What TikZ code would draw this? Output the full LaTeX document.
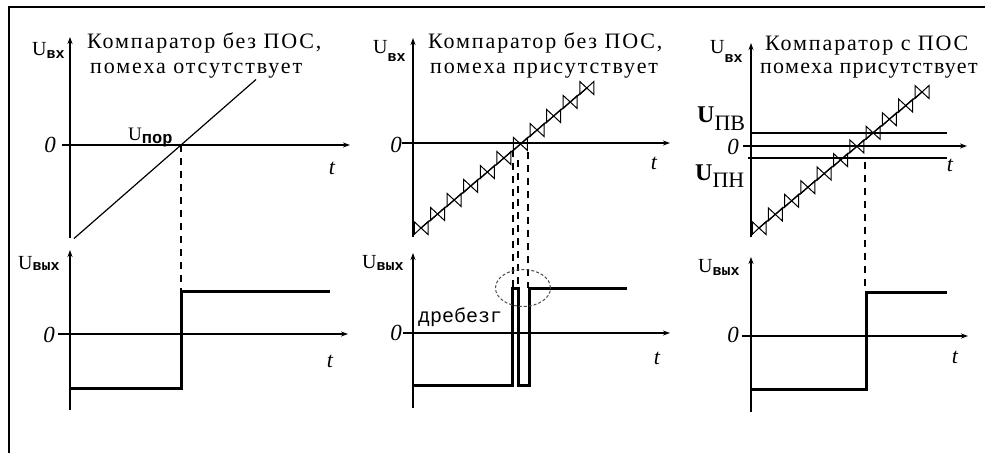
\documentclass[tikz,border=0pt]{standalone}
\usepackage{fontspec}
\setmainfont{Liberation Serif}
\newfontfamily\ttlf[LetterSpace=8.6]{Liberation Serif}
\newfontfamily\ttlg[LetterSpace=5.8]{Liberation Serif}
\newfontfamily\cmono{Liberation Mono}
\usetikzlibrary{arrows.meta}
\newcommand\Ulbl[2]{{\fontsize{20}{20}\selectfont U}\raisebox{#1}{\cmono\bfseries\fontsize{15}{15}\selectfont #2}}
\tikzset{
 axis/.style={line width=1.3pt, -{Stealth[length=7pt,width=5pt]}},
 axisln/.style={line width=1.3pt},
 sig/.style={line width=3pt, line join=miter},
 ramp/.style={line width=1.2pt},
 guide/.style={line width=1.3pt, dash pattern=on 7pt off 6pt},
 lbl/.style={inner sep=0pt, anchor=base west},
 ttl/.style={inner sep=0pt, anchor=base west, font=\ttlf\fontsize{22}{26}\selectfont},
 zero/.style={inner sep=0pt, font=\itshape\fontsize{23}{23}\selectfont},
 tlbl/.style={inner sep=0pt, font=\itshape\fontsize{22}{22}\selectfont},
 bow/.style={line width=1pt},
 frame/.style={line width=2pt},
}
\begin{document}
\begin{tikzpicture}[x=1pt,y=-1pt]
\useasboundingbox (0,0) rectangle (985,453);
\fill[white] (0,0) rectangle (985,453);
% frame
\coordinate (fb) at (9,453); \coordinate (ftl) at (9,7); \coordinate (fr) at (985,7);
\draw[frame] (fb) -- (ftl) -- (fr);

% ================= Panel 1 =================
\coordinate (a1b) at (70,238); \coordinate (a1t) at (70,37);
\coordinate (h1l) at (62,145); \coordinate (h1r) at (350,145);
\draw[axis] (a1b) -- (a1t);
\draw[axis] (h1l) -- (h1r);
\coordinate (r1s) at (74,238.5); \coordinate (r1e) at (256,79.5);
\draw[ramp] (r1s) -- (r1e);
\coordinate (x1) at (181,145);
\coordinate (b1b) at (70,410); \coordinate (b1t) at (70,250);
\coordinate (g1l) at (58,334); \coordinate (g1r) at (348,334);
\draw[axis] (b1b) -- (b1t);
\draw[axis] (g1l) -- (g1r);
\coordinate (s1a) at (70,388); \coordinate (s1b) at (181,388);
\coordinate (o1) at (181,291); \coordinate (s1e) at (330,291);
\draw[sig] (s1a) -- (s1b) -- (o1) -- (s1e);
\draw[guide] (x1) -- (o1);
\node[ttl] (t1a) at (87,48) {Компаратор без ПОС,};
\node[ttl] (t1b) at (90,73) {помеха отсутствует};
\node[lbl] (u1) at (32,55) {\Ulbl{-3pt}{вх}};
\node[lbl] (u1o) at (18,269) {\Ulbl{-1pt}{вых}};
\node[lbl] (upor) at (128,140) {{\fontsize{19}{19}\selectfont U}\raisebox{-3pt}{\cmono\bfseries\fontsize{17}{17}\selectfont пор}};
\node[zero] (z1) at (50,145) {0};
\node[zero] (z1o) at (49,335) {0};
\node[tlbl] (tt1) at (332,168) {t};
\node[tlbl] (tt1o) at (330,361) {t};

% ================= Panel 2 =================
\coordinate (a2b) at (413,237); \coordinate (a2t) at (413,38);
\coordinate (h2l) at (402,143); \coordinate (h2r) at (670,143);
\draw[axis] (a2b) -- (a2t);
\draw[axis] (h2l) -- (h2r);
\foreach \i in {0,...,10}{
  \pgfmathsetmacro\cx{421+16.58*\i}
  \pgfmathsetmacro\cy{228-14*\i}
  \draw[bow] (\cx-7,\cy-6.5) -- (\cx-7,\cy+6.5) -- (\cx+7,\cy-6.5) -- (\cx+7,\cy+6.5) -- cycle;
}
\coordinate (r2s) at (421,228); \coordinate (r2e) at (586.8,88);
\draw[ramp] (r2s) -- (r2e);
\coordinate (k2a) at (414,221.5); \coordinate (k2b) at (414,234.5);
\draw[line width=2.5pt] (k2a) -- (k2b);
\coordinate (b2b) at (413,408); \coordinate (b2t) at (413,253);
\coordinate (g2l) at (403,333); \coordinate (g2r) at (670,333);
\draw[axis] (b2b) -- (b2t);
\draw[axis] (g2l) -- (g2r);
\coordinate (s2a) at (413,385); \coordinate (s2b) at (512,385);
\coordinate (s2c) at (512,288); \coordinate (s2d) at (518,288);
\coordinate (s2e) at (518,385); \coordinate (s2f) at (529,385);
\coordinate (s2g) at (529,288); \coordinate (s2h) at (627,288);
\draw[sig] (s2a) -- (s2b) -- (s2c) -- (s2d) -- (s2e) -- (s2f) -- (s2g) -- (s2h);
\coordinate (d2a) at (513,150); \coordinate (d2at) at (513,288);
\coordinate (d2b) at (518,160); \coordinate (d2bt) at (518,288);
\coordinate (d2c) at (528,152); \coordinate (d2ct) at (528,288);
\draw[guide] (d2a) -- (d2at);
\draw[guide] (d2b) -- (d2bt);
\draw[guide] (d2c) -- (d2ct);
\coordinate (ell) at (523,288);
\draw[line width=1pt, dash pattern=on 3pt off 2pt, color=black!70] (ell) ellipse [x radius=27.5pt, y radius=18.5pt];
\node[ttl] (t2a) at (428,48) {Компаратор без ПОС,};
\node[ttl] (t2b) at (430,73) {помеха присутствует};
\node[lbl] (u2) at (373,53) {\Ulbl{-8pt}{вх}};
\node[lbl] (u2o) at (362,268) {\Ulbl{-2pt}{вых}};
\node[lbl, font=\cmono\fontsize{20}{20}\selectfont] (dreb) at (418,322) {дребезг};
\node[zero] (z2) at (396,145) {0};
\node[zero] (z2o) at (396,333) {0};
\node[tlbl] (tt2) at (654,163) {t};
\node[tlbl] (tt2o) at (657,358) {t};

% ================= Panel 3 =================
\coordinate (a3b) at (751,237); \coordinate (a3t) at (751,43);
\coordinate (h3l) at (743,146); \coordinate (h3r) at (967,146);
\draw[axis] (a3b) -- (a3t);
\draw[axis] (h3l) -- (h3r);
\coordinate (pv1) at (752,133); \coordinate (pv2) at (947,133);
\coordinate (pn1) at (748,158); \coordinate (pn2) at (947,158);
\draw[axisln] (pv1) -- (pv2);
\draw[axisln] (pn1) -- (pn2);
\foreach \i in {0,...,10}{
  \pgfmathsetmacro\cx{759+16.3*\i}
  \pgfmathsetmacro\cy{228-13.6*\i}
  \draw[bow] (\cx-7,\cy-6.5) -- (\cx-7,\cy+6.5) -- (\cx+7,\cy-6.5) -- (\cx+7,\cy+6.5) -- cycle;
}
\coordinate (r3s) at (759,228); \coordinate (r3e) at (922,92);
\draw[ramp] (r3s) -- (r3e);
\coordinate (k3a) at (752,221.5); \coordinate (k3b) at (752,234.5);
\draw[line width=2.5pt] (k3a) -- (k3b);
\coordinate (b3b) at (751,412); \coordinate (b3t) at (751,257);
\coordinate (g3l) at (742,336); \coordinate (g3r) at (968,336);
\draw[axis] (b3b) -- (b3t);
\draw[axis] (g3l) -- (g3r);
\coordinate (s3a) at (751,389); \coordinate (s3b) at (866,389);
\coordinate (o3) at (866,292); \coordinate (s3e) at (947,292);
\draw[sig] (s3a) -- (s3b) -- (o3) -- (s3e);
\coordinate (d3) at (865,162); \coordinate (d3t) at (865,292);
\draw[guide] (d3) -- (d3t);
\node[ttl] (t3a) at (765,50) {Компаратор с ПОС};
\node[ttl, font=\ttlg\fontsize{22}{26}\selectfont] (t3b) at (760,73) {помеха присутствует};
\node[lbl] (u3) at (710,53) {\Ulbl{-9pt}{вх}};
\node[lbl] (u3o) at (698,272) {\Ulbl{-3pt}{вых}};
\node[lbl] (upv) at (697,122) {{\bfseries\fontsize{24}{24}\selectfont U}\raisebox{-8pt}{\fontsize{22}{22}\selectfont ПВ}};
\node[lbl] (upn) at (695,180) {{\bfseries\fontsize{24}{24}\selectfont U}\raisebox{-7pt}{\fontsize{22}{22}\selectfont ПН}};
\node[zero] (z3) at (733,147) {0};
\node[zero] (z3o) at (733,335) {0};
\node[tlbl] (tt3) at (950,165) {t};
\node[tlbl] (tt3o) at (955,357) {t};
\end{tikzpicture}
\end{document}
